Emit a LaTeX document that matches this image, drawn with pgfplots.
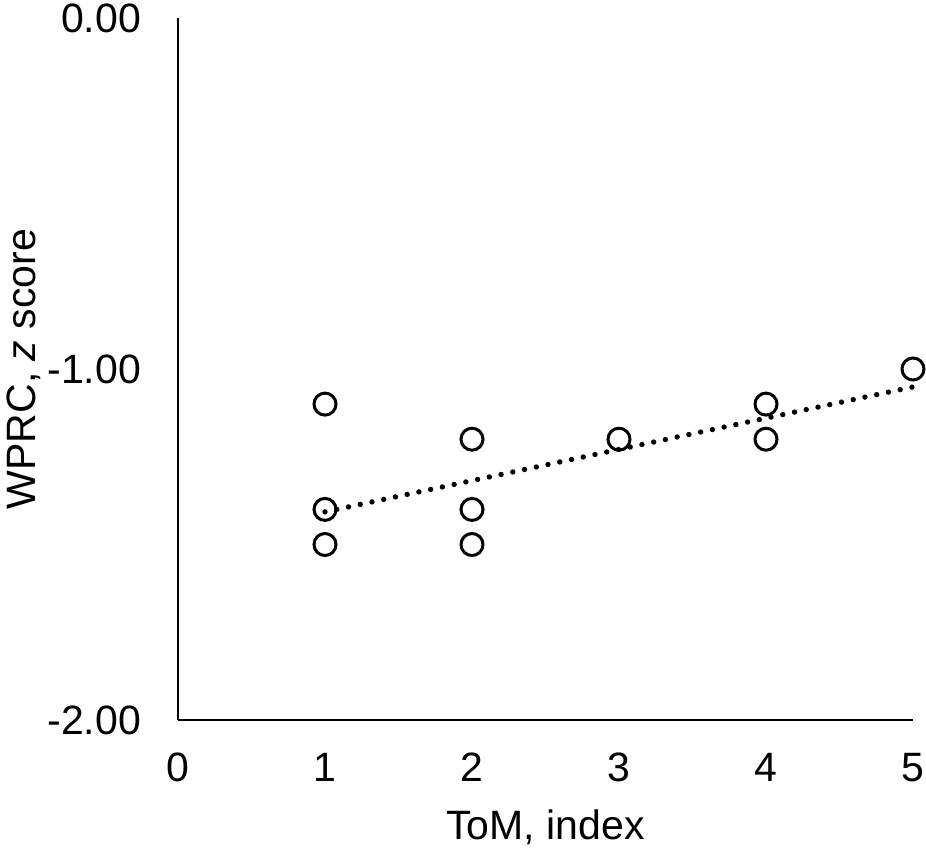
\documentclass[border=0pt]{standalone}
\usepackage{pgfplots}
\pgfplotsset{compat=1.18}
\usepackage{fontspec}
\setmainfont{Liberation Sans}
\begin{document}
\fontsize{20.5}{24}\selectfont
\begin{tikzpicture}
\begin{axis}[
  scale only axis,
  width=367.5pt, height=351pt,
  xmin=0, xmax=5, ymin=-2, ymax=0,
  axis x line=bottom, axis y line=left,
  axis line style={-, line width=1.4pt, black},
  xtick={0,1,2,3,4,5},
  ytick={-2,-1,0},
  major tick length=0pt,
  /pgf/number format/assume math mode=true,
  yticklabel={\pgfmathprintnumber[fixed,fixed zerofill,precision=2]{\tick}},
  ticklabel style={font=\fontsize{20.5}{24}\selectfont},
  yticklabel style={xshift=-11.5pt},
  xticklabel style={yshift=-9.5pt},
  xlabel={ToM, index},
  ylabel={WPRC, \textit{z} score},
  label style={font=\fontsize{20.5}{24}\selectfont},
  xlabel style={yshift=0pt},
  ylabel style={yshift=-10.5pt},
  clip=false,
]
\addplot[only marks, mark=o, mark size=5.5pt, mark options={line width=1.5pt, black}]
coordinates {
(1,-1.1) (1,-1.4) (1,-1.5)
(2,-1.2) (2,-1.4) (2,-1.5)
(3,-1.2)
(4,-1.1) (4,-1.2)
(5,-1.0)
};
\addplot[black, line width=2.7pt, line cap=round, dash pattern=on 0pt off 6pt]
coordinates {(1,-1.407) (5,-1.051)};
\coordinate (bl) at (rel axis cs:0,0);
\coordinate (tr) at (rel axis cs:1,1);
\end{axis}
\pgfresetboundingbox
\path ([shift={(-89pt,-63.5pt)}]bl) rectangle ([shift={(6.5pt,9pt)}]tr);
\end{tikzpicture}
\end{document}
